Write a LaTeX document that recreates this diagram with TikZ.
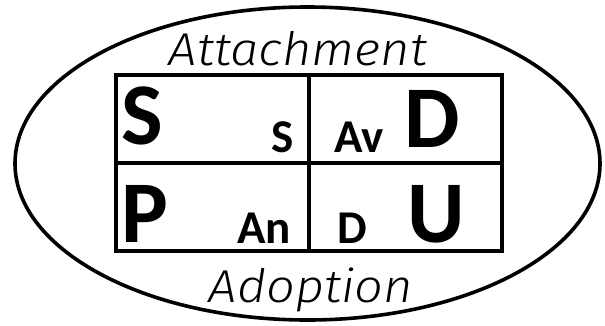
\documentclass[tikz,border=0pt]{standalone}
\usepackage{fontspec}
\usepackage{graphicx}
\setmainfont{Carlito}
\IfFontExistsTF{Fira Sans Light Italic}
  {\newfontfamily\hand{Fira Sans Light Italic}\newcommand\handshape{}}
  {\IfFontExistsTF{Open Sans Light Italic}
    {\newfontfamily\hand{Open Sans Light Italic}\newcommand\handshape{}}
    {\newfontfamily\hand{Fira Sans}\newcommand\handshape{\itshape}}}
\tikzset{
  frame/.style={line width=3.6pt},
  big/.style={inner sep=0pt, font=\bfseries\fontsize{88}{88}\selectfont},
  small/.style={inner sep=0pt, font=\bfseries\fontsize{47}{47}\selectfont},
  script/.style={inner sep=0pt, font=\hand\handshape\fontsize{46}{46}\selectfont}
}
\begin{document}
\begin{tikzpicture}[x=1pt,y=-1pt]
\useasboundingbox (0,0) rectangle (605,325);
\draw[frame] (307.5,163.5) ellipse [x radius=292.5, y radius=156.5];
% grid
\draw[frame] (116,75) rectangle (502,251);
\draw[frame] (309,75) -- (309,251);
\draw[frame] (116,163) -- (502,163);
% big letters
\node[big, anchor=base west] (S) at (121,144) {S};
\node[big, anchor=base west] (D) at (404,147) {D};
\node[big, anchor=base west] (P) at (121,242) {P};
\node[big, anchor=base west] (U) at (407,242) {U};
% small letters
\node[small, anchor=base east] (s) at (294,152) {S};
\node[small, anchor=base west] (av) at (334,152) {Av};
\node[small, anchor=base west] (an) at (237,243) {An};
\node[small, anchor=base west] (d) at (337,243) {D};
% handwriting labels
\node[script, anchor=base] (att) at (298,65) {\scalebox{1.1}[1]{Attachment}};
\node[script, anchor=base] (ado) at (311,302) {\scalebox{1.1}[1]{Adoption}};
\end{tikzpicture}
\end{document}
